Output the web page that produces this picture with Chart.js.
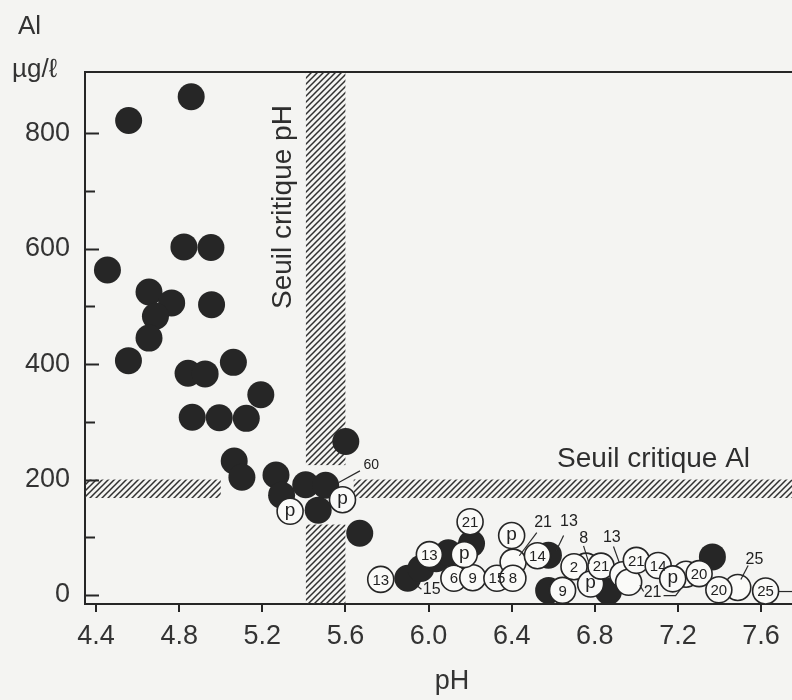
<!DOCTYPE html>
<html>
<head>
<meta charset="utf-8">
<script src="https://cdn.jsdelivr.net/npm/chart.js@4.4.0/dist/chart.umd.min.js"></script>
<style>
html,body{margin:0;padding:0;background:#f4f4f2;}
canvas{display:block;}
</style>
</head>
<body>
<canvas id="c" width="792" height="700"></canvas>
<script>
// ---- data ----
const xTicks = [4.4, 4.8, 5.2, 5.6, 6.0, 6.4, 6.8, 7.2, 7.6];
const yTicks = [0, 200, 400, 600, 800];
const yMinorTicks = [100, 300, 500, 700];

// filled (black) samples
const blackPH = [4.455, 4.557, 4.858, 4.823, 4.953, 4.655, 4.764, 4.686, 4.956, 4.655, 4.556,
  5.061, 4.843, 4.925, 5.193, 4.863, 4.993, 5.123, 5.065, 5.102, 5.602, 5.266, 5.293, 5.409,
  5.505, 5.469, 5.669, 5.90, 5.963, 6.037, 6.095, 6.207, 6.577, 6.578, 6.866, 7.366];
const blackAl = [563, 822, 863, 603, 602, 525, 506, 483, 503, 445, 406,
  403, 384, 383, 347, 308, 307, 306, 232, 204, 266, 208, 173, 191,
  190, 147, 107, 29, 46, 63, 73, 89, 69, 8, 6, 66];

// open (white) samples with their labels
const whiteLabels = ['p', 'p', '13', '13', '6', '9', 'p', '21', '15', '', '8', 'p', '14', '9',
  '', '2', 'p', '21', '', '', '21', '14', '', 'p', '20', '', '20', '25'];
const whitePH = [5.334, 5.586, 5.770, 6.004, 6.122, 6.213, 6.172, 6.200, 6.329, 6.407, 6.406, 6.40, 6.524, 6.645,
  6.758, 6.70, 6.78, 6.83, 6.935, 6.963, 7.00, 7.105, 7.239, 7.175, 7.302, 7.488, 7.397, 7.622];
const whiteAl = [145, 165, 27, 70, 29, 30, 70, 127, 29, 57, 29, 103, 68, 8,
  50, 49, 19, 50, 35, 22, 60, 51, 36, 28, 37, 13, 9, 7];

// critical thresholds (hatched bands)
const seuilPH = [5.41, 5.60];
const seuilAl = [168, 200];
const hatchGapPH = [5.0, 5.64];
const hatchGapAl = [122, 225];

// callout labels: text, position, leader line points (data units)
const calloutText = ['60', '15', '21', '13', '8', '13', '21', '25', ''];
const calloutPH = [5.724, 6.015, 6.551, 6.676, 6.747, 6.882, 7.078, 7.568, null];
const calloutAl = [225, 9, 125, 127, 97, 99, 4, 61, null];
const calloutLines = [
  [[5.568, 195], [5.67, 215]],
  [[5.966, 10], [5.942, 17]],
  [[6.521, 108], [6.437, 68]],
  [[6.65, 103], [6.615, 77]],
  [[6.746, 85], [6.773, 54]],
  [[6.89, 84], [6.918, 56]],
  [[7.035, 6], [7.017, 17]],
  [[7.538, 51], [7.503, 27]],
  [[7.686, 6], [7.749, 6]]
];
const calloutLines2 = [[7, [[7.131, -1], [7.189, -1], [7.213, 10]]]];

const FONT = "'Liberation Sans', Arial, sans-serif";
const INK = '#262626';

function hatchPattern(ctx) {
  const t = document.createElement('canvas');
  t.width = 6; t.height = 6;
  const g = t.getContext('2d');
  g.strokeStyle = '#303030';
  g.lineWidth = 1.5;
  g.beginPath();
  g.moveTo(0, 6); g.lineTo(6, 0);
  g.moveTo(-1, 1); g.lineTo(1, -1);
  g.moveTo(5, 7); g.lineTo(7, 5);
  g.stroke();
  return ctx.createPattern(t, 'repeat');
}

const decor = {
  id: 'decor',
  beforeDatasetsDraw(chart) {
    const {ctx, chartArea: a, scales: {x, y}} = chart;
    ctx.save();
    ctx.beginPath();
    ctx.rect(a.left, a.top, chart.width - a.left, a.bottom - a.top);
    ctx.clip();
    ctx.fillStyle = hatchPattern(ctx);
    const rect = (x0, x1, y0, y1) => {
      const px0 = x.getPixelForValue(x0), px1 = x.getPixelForValue(x1);
      const py0 = y.getPixelForValue(y0), py1 = y.getPixelForValue(y1);
      ctx.fillRect(Math.min(px0, px1), Math.min(py0, py1), Math.abs(px1 - px0), Math.abs(py1 - py0));
    };
    rect(seuilPH[0], seuilPH[1], hatchGapAl[1], y.max);
    rect(seuilPH[0], seuilPH[1], y.min, hatchGapAl[0]);
    rect(x.min, hatchGapPH[0], seuilAl[0], seuilAl[1]);
    rect(hatchGapPH[1], x.max, seuilAl[0], seuilAl[1]);
    ctx.restore();

    // inward ticks on the y axis
    ctx.save();
    ctx.strokeStyle = INK;
    ctx.lineWidth = 2;
    ctx.beginPath();
    yTicks.forEach(v => {
      const py = Math.round(y.getPixelForValue(v)) + 0.5;
      ctx.moveTo(a.left, py); ctx.lineTo(a.left + 14, py);
    });
    yMinorTicks.forEach(v => {
      const py = Math.round(y.getPixelForValue(v)) + 0.5;
      ctx.moveTo(a.left, py); ctx.lineTo(a.left + 10, py);
    });
    // top frame line
    ctx.moveTo(a.left - 1, a.top); ctx.lineTo(chart.width, a.top);
    ctx.stroke();
    ctx.restore();
  },
  afterDatasetsDraw(chart) {
    const {ctx, scales: {x, y}} = chart;
    ctx.save();
    ctx.fillStyle = '#222';
    ctx.textAlign = 'center';
    ctx.textBaseline = 'middle';
    // labels inside open circles
    const meta = chart.getDatasetMeta(0);
    meta.data.forEach((pt, i) => {
      const t = whiteLabels[i];
      if (!t) return;
      ctx.font = (t === 'p' ? '19px ' : '15px ') + FONT;
      ctx.fillText(t, pt.x, pt.y + (t === 'p' ? -1 : 1));
    });
    // callouts
    ctx.strokeStyle = '#2a2a2a';
    ctx.lineWidth = 1.2;
    calloutText.forEach((t, i) => {
      if (t) {
        ctx.font = (t === '60' ? '14px ' : '16px ') + FONT;
        ctx.fillText(t, x.getPixelForValue(calloutPH[i]), y.getPixelForValue(calloutAl[i]));
      }
      const ln = calloutLines[i];
      ctx.beginPath();
      ln.forEach((p, k) => {
        const px = x.getPixelForValue(p[0]), py = y.getPixelForValue(p[1]);
        if (k === 0) ctx.moveTo(px, py); else ctx.lineTo(px, py);
      });
      ctx.stroke();
    });
    calloutLines2.forEach(([i, ln]) => {
      ctx.beginPath();
      ln.forEach((p, k) => {
        const px = x.getPixelForValue(p[0]), py = y.getPixelForValue(p[1]);
        if (k === 0) ctx.moveTo(px, py); else ctx.lineTo(px, py);
      });
      ctx.stroke();
    });
    // threshold labels
    ctx.fillStyle = '#2e2e2e';
    ctx.font = '28px ' + FONT;
    ctx.save();
    ctx.translate(x.getPixelForValue(5.299), y.getPixelForValue(672));
    ctx.rotate(-Math.PI / 2);
    ctx.fillText('Seuil critique pH', 0, 0);
    ctx.restore();
    ctx.fillText('Seuil critique Al', x.getPixelForValue(7.083), y.getPixelForValue(235));
    // x axis title
    ctx.fillStyle = '#333';
    ctx.font = '27px ' + FONT;
    ctx.fillText('pH', 452, 682);
    // y axis unit label
    ctx.textAlign = 'left';
    ctx.textBaseline = 'alphabetic';
    ctx.font = '26px ' + FONT;
    ctx.fillText('Al', 18, 34);
    ctx.font = '26px ' + FONT;
    ctx.fillText('\u00B5g/\u2113', 12, 77);
    ctx.restore();
  }
};

new Chart(document.getElementById('c'), {
  type: 'scatter',
  data: {
    datasets: [
      {
        label: 'ouverts',
        order: 0,
        data: whitePH.map((v, i) => ({x: v, y: whiteAl[i]})),
        pointRadius: 13,
        pointHoverRadius: 13,
        pointBackgroundColor: '#fafaf8',
        pointBorderColor: INK,
        pointBorderWidth: 1.6
      },
      {
        label: 'pleins',
        order: 1,
        data: blackPH.map((v, i) => ({x: v, y: blackAl[i]})),
        pointRadius: 13.5,
        pointHoverRadius: 13.5,
        pointBackgroundColor: INK,
        pointBorderColor: INK,
        pointBorderWidth: 0
      }
    ]
  },
  options: {
    responsive: false,
    animation: false,
    events: [],
    layout: {autoPadding: false, padding: {top: 72, left: 0, right: 0, bottom: 0}},
    plugins: {legend: {display: false}, tooltip: {enabled: false}},
    scales: {
      x: {
        type: 'linear',
        min: 4.347,
        max: 7.749,
        afterBuildTicks: s => { s.ticks = xTicks.map(v => ({value: v})); },
        afterFit: s => { s.height = 96; s.paddingLeft = 0; s.paddingRight = 0; },
        grid: {display: true, drawOnChartArea: false, drawTicks: true, tickLength: 8, color: INK, lineWidth: 2},
        border: {display: true, color: INK, width: 2},
        ticks: {
          autoSkip: false, maxRotation: 0, padding: 8, color: '#333',
          font: {family: FONT, size: 27},
          callback: v => Number(v).toFixed(1)
        },
        title: {display: false}
      },
      y: {
        type: 'linear',
        min: -15.6,
        max: 906,
        afterBuildTicks: s => { s.ticks = yTicks.map(v => ({value: v})); },
        afterFit: s => { s.width = 85; s.paddingTop = 0; s.paddingBottom = 0; },
        grid: {display: false},
        border: {display: true, color: INK, width: 2},
        ticks: {
          padding: 7, color: '#333',
          font: {family: FONT, size: 27},
          callback: v => String(v)
        }
      }
    }
  },
  plugins: [decor]
});
</script>
</body>
</html>
